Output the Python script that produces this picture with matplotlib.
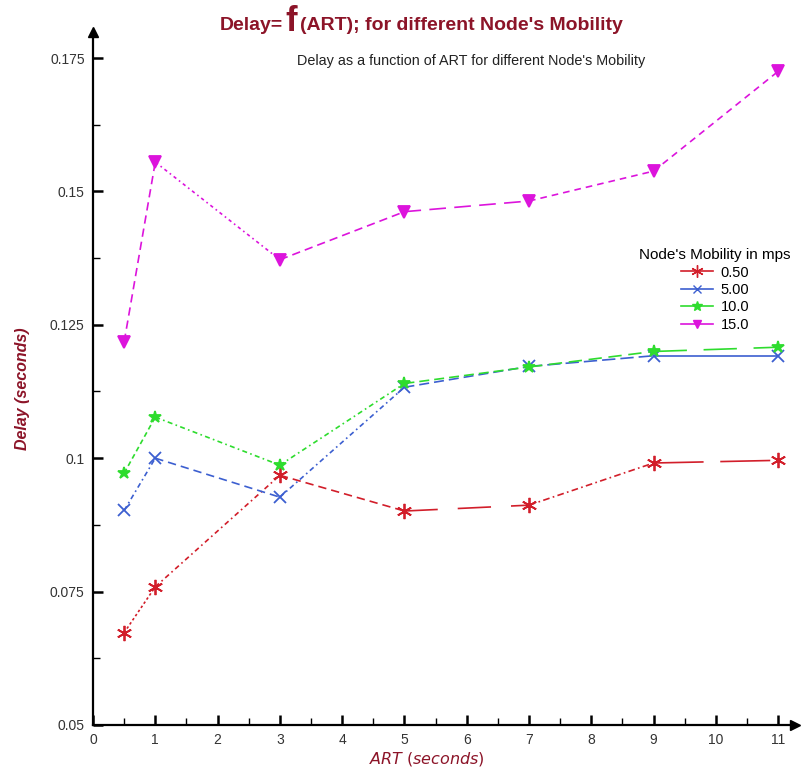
import matplotlib
matplotlib.use("Agg")
import matplotlib.pyplot as plt
from matplotlib.lines import Line2D
from matplotlib.ticker import MultipleLocator, FixedLocator, FixedFormatter

plt.rcParams['font.family'] = ['Liberation Sans', 'DejaVu Sans']

# ---- data ----
art = [0.5, 1, 3, 5, 7, 9, 11]
mobility_labels = ["0.50", "5.00", "10.0", "15.0"]
delay_050 = [0.0673, 0.0759, 0.0968, 0.0901, 0.0912, 0.0991, 0.0996]
delay_500 = [0.0902, 0.1000, 0.0927, 0.1133, 0.1172, 0.1192, 0.1192]
delay_100 = [0.0972, 0.1077, 0.0987, 0.1140, 0.1171, 0.1200, 0.1208]
delay_150 = [0.1218, 0.1555, 0.1372, 0.1462, 0.1482, 0.1538, 0.1725]
series = [delay_050, delay_500, delay_100, delay_150]

y_ticks = [0.05, 0.075, 0.1, 0.125, 0.15, 0.175]
y_ticklabels = ["0.05", "0.075", "0.1", "0.125", "0.15", "0.175"]
x_ticks = list(range(0, 12))

# ---- style ----
colors = ["#d21e2a", "#3c5fd0", "#2edc2e", "#dc14dc"]
markers = [(6, 2, 0), "x", "*", "v"]
msizes = [11, 8, 9, 8]
seg_styles = [
    [(0, (1.5, 1.5)), (0, (3, 2, 1, 2)), (0, (5, 3)), (0, (20, 12)), (0, (4, 2, 1, 2)), (0, (30, 10))],
    [(0, (3, 2, 1, 2)), (0, (5, 3)), (0, (3, 2, 1, 2)), (0, (6, 3)), (0, (8, 3)), "-"],
    [(0, (3, 2)), (0, (3, 2, 1, 2)), (0, (3, 2, 1, 2)), (0, (6, 3)), (0, (8, 4)), (0, (20, 10))],
    [(0, (5, 3)), (0, (2, 2, 1, 2)), (0, (5, 3)), (0, (10, 5)), (0, (4, 3)), (0, (4, 3))],
]
label_color = "#8c1428"

W, H = 801, 776
fig = plt.figure(figsize=(W / 100, H / 100), dpi=100)
x0, x1 = 93, 795
y0, y1 = 725, 32
ax = fig.add_axes([x0 / W, 1 - y0 / H, (x1 - x0) / W, (y0 - y1) / H])

xmax = 11.27
ymax = 0.05 + (y0 - y1) / 5336
ax.set_xlim(0, xmax)
ax.set_ylim(0.05, ymax)

for ys, c, m, ms, styles in zip(series, colors, markers, msizes, seg_styles):
    for i in range(len(art) - 1):
        ax.plot(art[i:i + 2], ys[i:i + 2], color=c, lw=1.2, linestyle=styles[i])
    ax.plot(art, ys, linestyle="none", marker=m, color=c, markersize=ms,
            markeredgewidth=1.3)

for s in ["top", "right"]:
    ax.spines[s].set_visible(False)
for s in ["left", "bottom"]:
    ax.spines[s].set_linewidth(1.6)
    ax.spines[s].set_color("black")

# arrows
ax.plot(1, 0, ">k", transform=ax.transAxes, clip_on=False, markersize=7)
ax.plot(0, 1, "^k", transform=ax.transAxes, clip_on=False, markersize=7)

ax.yaxis.set_major_locator(FixedLocator(y_ticks))
ax.yaxis.set_major_formatter(FixedFormatter(y_ticklabels))
ax.yaxis.set_minor_locator(MultipleLocator(0.0125))
ax.xaxis.set_major_locator(FixedLocator(x_ticks))
ax.xaxis.set_minor_locator(MultipleLocator(0.5))
ax.tick_params(axis="both", which="major", direction="in", length=7, width=1.8,
               labelsize=10, pad=6, colors="black")
ax.tick_params(axis="both", which="minor", direction="in", length=5, width=1.0)
for t in ax.get_xticklabels() + ax.get_yticklabels():
    t.set_color("#333333")

ax.set_xlabel(r"$\bf{\it{ART}}$ $\it{(seconds)}$", color=label_color, fontsize=11.5)
ax.xaxis.set_label_coords(0.476, -0.036)
ax.set_ylabel("Delay (seconds)", color=label_color, fontsize=11.5, fontstyle="italic",
              fontweight="bold")
ax.yaxis.set_label_coords(-0.09, 0.486)

# titles
ty = 1 - 25 / H
fig.text(283 / W, ty, "Delay=", ha="right", va="center", fontsize=14,
         fontweight="bold", color=label_color)
fig.text(291 / W, ty + 0.004, "f", ha="center", va="center", fontsize=25,
         fontweight="bold", color=label_color)
fig.text(300 / W, ty, "(ART); for different Node's Mobility", ha="left", va="center",
         fontsize=14, fontweight="bold", color=label_color)
fig.text(471 / W, 1 - 61 / H, "Delay as a function of ART for different Node's Mobility",
         ha="center", va="center", fontsize=10.4, color="#222222")

handles = [Line2D([0], [0], color=c, marker=m, markersize=ms * 0.8, lw=1.2)
           for c, m, ms in zip(colors, markers, msizes)]
leg = ax.legend(handles, mobility_labels, title="Node's Mobility in mps",
                loc="upper right", bbox_to_anchor=(801 / W, 1 - 238 / H),
                bbox_transform=fig.transFigure, frameon=False, fontsize=10.5,
                title_fontsize=11, handlelength=2.2, handletextpad=0.5,
                labelspacing=0.23, borderpad=0.2)

fig.savefig("out.png", dpi=100)
